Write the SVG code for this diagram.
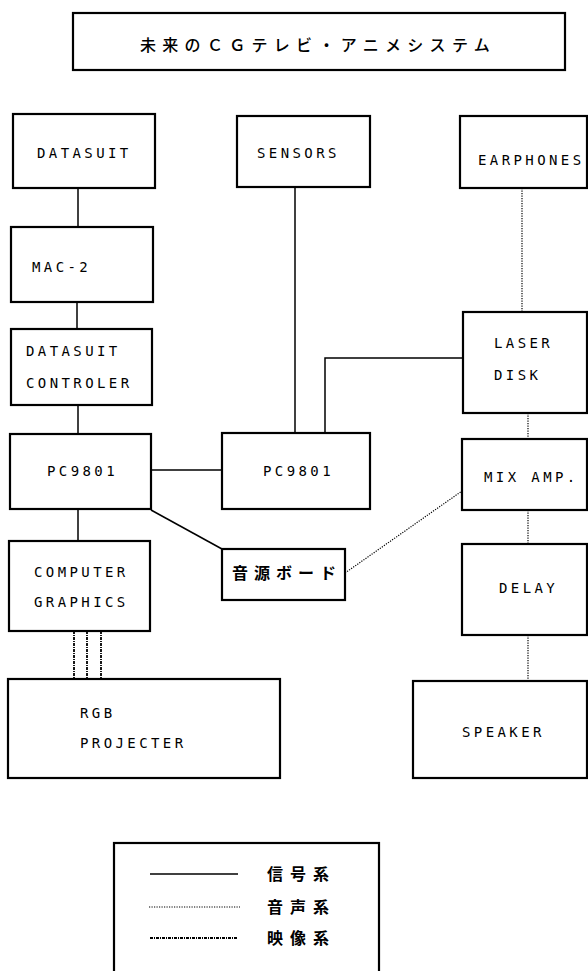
<svg xmlns="http://www.w3.org/2000/svg" width="588" height="971" viewBox="0 0 588 971">
<style>
.box{fill:#fff;stroke:#000;stroke-width:2.2}
.t{font-family:"DejaVu Sans Mono","Liberation Mono",monospace;font-size:14px;letter-spacing:3.4px;fill:#000}
.j{font-family:"Noto Sans CJK JP",sans-serif;font-size:16px;fill:#000}
.sig{stroke:#000;stroke-width:1.5;fill:none}
.aud{stroke:#000;stroke-width:1.2;stroke-dasharray:1.2 1.3;fill:none}
.vid{stroke:#000;stroke-width:1.8;stroke-dasharray:3 1 1 1;fill:none}
</style>
<rect width="588" height="971" fill="#fff"/>
<g id="title">
<rect class="box" x="73" y="13" width="492" height="57"/>
<text class="j" x="140" y="51" style="letter-spacing:6.3px;font-weight:500">未来のＣＧテレビ・アニメシステム</text>
</g>
<g id="connectors">
<line class="sig" x1="78" y1="188" x2="78" y2="227"/>
<line class="sig" x1="77" y1="302" x2="77" y2="329"/>
<line class="sig" x1="78" y1="405" x2="78" y2="434"/>
<line class="sig" x1="151" y1="470" x2="222" y2="470"/>
<line class="sig" x1="78" y1="509" x2="78" y2="541"/>
<line class="sig" x1="151" y1="510" x2="222" y2="549"/>
<line class="sig" x1="295" y1="187" x2="295" y2="433"/>
<polyline class="sig" points="463,358 325,358 325,433"/>
<line class="aud" x1="522" y1="188" x2="522" y2="312"/>
<line class="aud" x1="528" y1="413" x2="528" y2="439"/>
<line class="aud" x1="528" y1="510" x2="528" y2="544"/>
<line class="aud" x1="528" y1="635" x2="528" y2="681"/>
<line class="aud" x1="345" y1="573" x2="462" y2="491"/>
<line class="vid" x1="74" y1="631" x2="74" y2="679"/>
<line class="vid" x1="87" y1="631" x2="87" y2="679"/>
<line class="vid" x1="101" y1="631" x2="101" y2="679"/>
</g>
<g id="datasuit"><rect class="box" x="13" y="114" width="142" height="74"/><text class="t" x="37" y="158">DATASUIT</text></g>
<g id="sensors"><rect class="box" x="237" y="116" width="133" height="71"/><text class="t" x="257" y="158">SENSORS</text></g>
<g id="earphones"><rect class="box" x="460" y="116" width="127" height="72"/><text class="t" x="478" y="165">EARPHONES</text></g>
<g id="mac2"><rect class="box" x="11" y="227" width="142" height="75"/><text class="t" x="32" y="272">MAC-2</text></g>
<g id="controler"><rect class="box" x="11" y="329" width="141" height="76"/><text class="t" x="26" y="356">DATASUIT</text><text class="t" x="26" y="388">CONTROLER</text></g>
<g id="laserdisk"><rect class="box" x="463" y="312" width="124" height="101"/><text class="t" x="494" y="348">LASER</text><text class="t" x="494" y="380">DISK</text></g>
<g id="pc9801-left"><rect class="box" x="10" y="434" width="141" height="75"/><text class="t" x="47" y="476">PC9801</text></g>
<g id="pc9801-right"><rect class="box" x="222" y="433" width="148" height="76"/><text class="t" x="263" y="476">PC9801</text></g>
<g id="mixamp"><rect class="box" x="462" y="439" width="125" height="71"/><text class="t" x="484" y="482">MIX AMP.</text></g>
<g id="ongen"><rect class="box" x="222" y="549" width="123" height="51"/><text class="j" x="232" y="579" style="letter-spacing:6px;font-weight:bold">音源ボード</text></g>
<g id="delay"><rect class="box" x="462" y="544" width="125" height="91"/><text class="t" x="499" y="593">DELAY</text></g>
<g id="cg"><rect class="box" x="9" y="541" width="141" height="90"/><text class="t" x="34" y="577">COMPUTER</text><text class="t" x="34" y="607">GRAPHICS</text></g>
<g id="rgb"><rect class="box" x="8" y="679" width="272" height="99"/><text class="t" x="80" y="718">RGB</text><text class="t" x="80" y="748">PROJECTER</text></g>
<g id="speaker"><rect class="box" x="413" y="681" width="174" height="97"/><text class="t" x="462" y="737">SPEAKER</text></g>
<g id="legend">
<rect class="box" x="114" y="843" width="265" height="140"/>
<line class="sig" x1="150" y1="874" x2="238" y2="874"/>
<line class="aud" x1="149" y1="907" x2="240" y2="907"/>
<line class="vid" x1="150" y1="938" x2="237" y2="938"/>
<text class="j" x="267" y="880" style="letter-spacing:7px;font-weight:bold">信号系</text>
<text class="j" x="267" y="913" style="letter-spacing:7px;font-weight:bold">音声系</text>
<text class="j" x="267" y="944" style="letter-spacing:7px;font-weight:bold">映像系</text>
</g>
</svg>
